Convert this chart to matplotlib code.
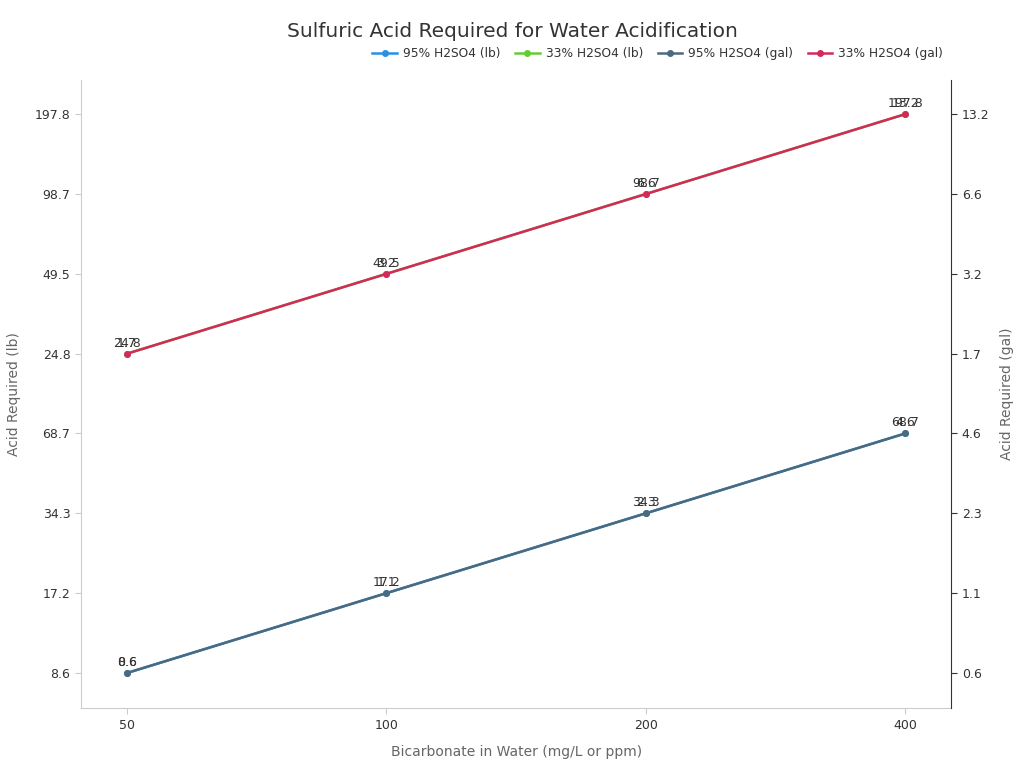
"""Sulfuric acid required for water acidification, lb and gal on twin axes."""

import matplotlib
matplotlib.use("Agg")
import matplotlib.pyplot as plt

bicarbonate = ["50", "100", "200", "400"]
acid95_lb = ["8.6", "17.2", "34.3", "68.7"]
acid33_lb = ["24.8", "49.5", "98.7", "197.8"]
acid95_gal = ["0.6", "1.1", "2.3", "4.6"]
acid33_gal = ["1.7", "3.2", "6.6", "13.2"]

series_labels = ["95% H2SO4 (lb)", "33% H2SO4 (lb)", "95% H2SO4 (gal)", "33% H2SO4 (gal)"]
colors = ["#2b8fe3", "#66cc33", "#4a6a80", "#d42a5a"]

fig = plt.figure(figsize=(10.24, 7.68), dpi=100)
ax = fig.add_axes([0.079, 0.078, 0.850, 0.818])
ax2 = ax.twinx()

lines = []
for ys, c, lab in [(acid95_lb, colors[0], series_labels[0]),
                   (acid33_lb, colors[1], series_labels[1])]:
    (ln,) = ax.plot(bicarbonate, ys, color=c, lw=1.8, marker="o", ms=4, label=lab)
    lines.append(ln)
    for x, y in zip(bicarbonate, ys):
        ax.annotate(y, (x, y), textcoords="offset points", xytext=(0, 3),
                    ha="center", va="bottom", fontsize=9, color="#333333")

for ys, c, lab in [(acid95_gal, colors[2], series_labels[2]),
                   (acid33_gal, colors[3], series_labels[3])]:
    (ln,) = ax2.plot(bicarbonate, ys, color=c, lw=1.8, marker="o", ms=4, label=lab)
    lines.append(ln)
    for x, y in zip(bicarbonate, ys):
        ax2.annotate(y, (x, y), textcoords="offset points", xytext=(0, 3),
                     ha="center", va="bottom", fontsize=9, color="#333333")

ax.set_xlim(-0.178, 3.178)
ax.set_ylim(-0.44, 7.43)
ax2.set_ylim(-0.44, 7.43)

for a in (ax, ax2):
    a.spines["top"].set_visible(False)
    a.tick_params(labelsize=9, colors="#333333", length=4)
ax.spines["right"].set_visible(False)
ax.spines["left"].set_color("#cccccc")
ax.spines["bottom"].set_color("#cccccc")
ax2.spines["left"].set_visible(False)
ax2.spines["bottom"].set_visible(False)
ax2.spines["right"].set_color("#333333")
ax.tick_params(axis="x", color="#cccccc", labelcolor="#333333")
ax.tick_params(axis="y", color="#cccccc", labelcolor="#333333")

ax.set_xlabel("Bicarbonate in Water (mg/L or ppm)", fontsize=10, color="#666666", labelpad=10)
ax.set_ylabel("Acid Required (lb)", fontsize=10, color="#666666", labelpad=10)
ax2.set_ylabel("Acid Required (gal)", fontsize=10, color="#666666", labelpad=8)

fig.suptitle("Sulfuric Acid Required for Water Acidification", fontsize=14.5,
             color="#333333", x=0.5, y=0.972)
fig.legend(handles=lines, loc="center right", bbox_to_anchor=(0.932, 0.930),
           ncol=4, frameon=False, fontsize=8.8, handlelength=2.0, columnspacing=1.2,
           handletextpad=0.5, labelcolor="#333333")

fig.savefig("out.png", dpi=100)
